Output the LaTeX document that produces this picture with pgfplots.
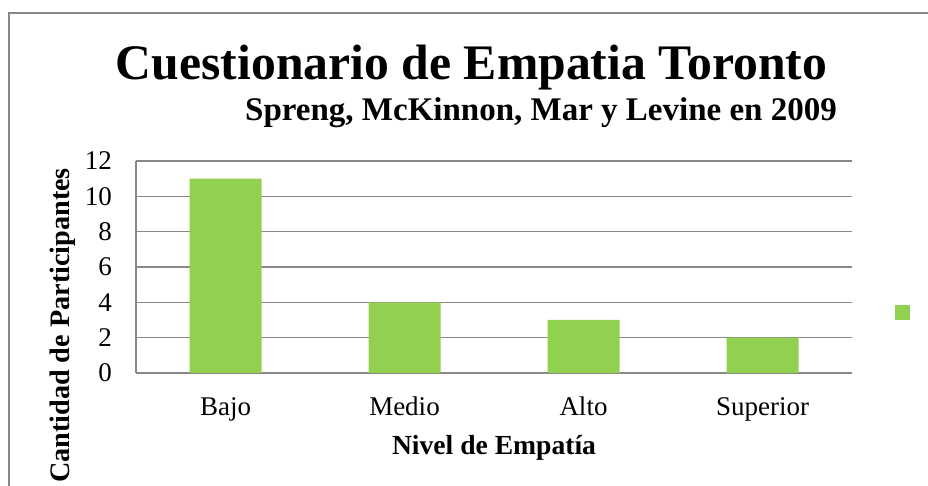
\documentclass[border=0pt]{standalone}
\usepackage{fontspec}
\setmainfont{Liberation Serif}
\usepackage{pgfplots}
\pgfplotsset{compat=1.18}
\definecolor{barg}{HTML}{92D050}
\definecolor{gridg}{HTML}{888888}
\definecolor{frameg}{HTML}{878787}
\begin{document}
\begin{tikzpicture}[x=1pt,y=1pt]
\path[use as bounding box] (0,0) rectangle (928,486);
\draw[frameg, line width=2pt] (9,-5) -- (9,473) -- (940,473);
\begin{axis}[
  at={(136pt,113pt)}, anchor=south west,
  scale only axis, width=716pt, height=212pt,
  ymin=0, ymax=12, ytick={0,2,...,12},
  xmin=-0.5, xmax=3.5, xtick={0,1,2,3},
  xticklabels={Bajo,Medio,Alto,Superior},
  axis x line*=bottom, axis y line*=left,
  axis line style={gridg, line width=1.3pt, -},
  ymajorgrids, grid style={gridg, line width=1.3pt},
  major tick length=0pt, tick style={draw=none},
  /pgf/number format/assume math mode=true,
  ticklabel style={font=\fontsize{27}{32}\selectfont, inner sep=0pt},
  yticklabel style={anchor=east, xshift=-24pt},
  xticklabel style={anchor=base, yshift=-43pt},
  xlabel={Nivel de Empatía},
  xlabel style={at={(axis description cs:0.5,-0.3868)}, anchor=base, inner sep=0pt,
    font=\bfseries\fontsize{27.6}{32}\selectfont},
  ylabel={Cantidad de Participantes},
  ylabel style={at={(axis description cs:-0.0922,0.224)}, anchor=base, inner sep=0pt,
    font=\bfseries\fontsize{28.2}{32}\selectfont},
  legend style={at={(axis description cs:1.0601,0.2854)}, anchor=west, draw=none, fill=none,
    inner sep=0pt, outer sep=0pt, nodes={inner sep=0pt, outer sep=0pt}},
  legend image code/.code={\fill[barg] (0pt,-7.5pt) rectangle (15pt,7.5pt);},
  clip=false,
]
\addplot[ybar, bar width=72pt, fill=barg, draw=none] coordinates {(0,11) (1,4) (2,3) (3,2)};
\addlegendentry{}
\end{axis}
\node[anchor=base, inner sep=0pt, font=\bfseries\fontsize{49.7}{60}\selectfont] at (471.5,406) {Cuestionario de Empatia Toronto};
\node[anchor=base east, inner sep=0pt, font=\bfseries\fontsize{33}{40}\selectfont] at (837,365) {Spreng, McKinnon, Mar y Levine en 2009};
\end{tikzpicture}
\end{document}
